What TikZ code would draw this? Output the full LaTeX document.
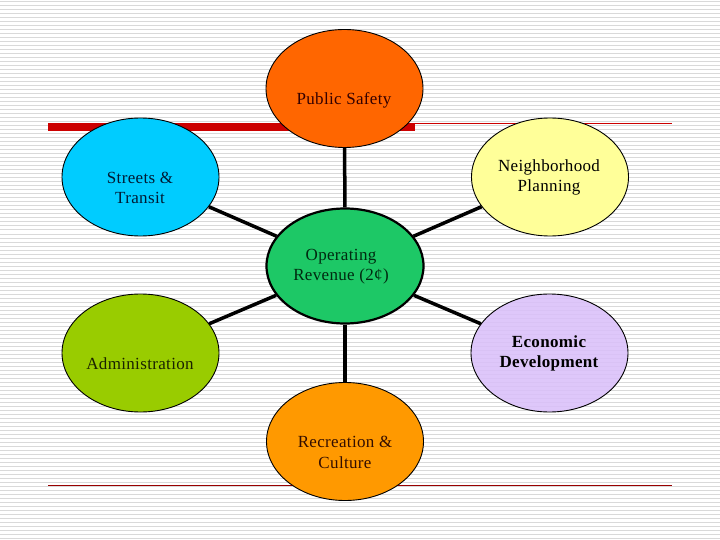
\documentclass[tikz,border=0pt]{standalone}
\usepackage{fontspec}
\setmainfont{Liberation Serif}[LetterSpace=2]
\usetikzlibrary{shapes.geometric}
\definecolor{stripegray}{HTML}{D9D9D9}
\definecolor{barred}{HTML}{CC0000}
\definecolor{darkred}{HTML}{990000}
\definecolor{cPS}{HTML}{FF6600}
\definecolor{cST}{HTML}{00CCFF}
\definecolor{cNP}{HTML}{FFFF99}
\definecolor{cOR}{HTML}{1DC866}
\definecolor{cAD}{HTML}{99CC00}
\definecolor{cED}{HTML}{D9BEFA}
\definecolor{cRC}{HTML}{FF9900}
\definecolor{tPS}{HTML}{330000}
\definecolor{tST}{HTML}{001A33}
\definecolor{tOR}{HTML}{002A10}
\definecolor{tAD}{HTML}{1A2200}
\definecolor{tRC}{HTML}{330E00}
\tikzset{
  bubble/.style={ellipse, draw=black, line width=0.9pt, minimum width=157pt, minimum height=118pt, inner sep=0pt},
  label text/.style={align=center, font=\fontsize{17}{20.5}\selectfont, text=black, inner sep=0pt},
  spoke/.style={line width=3.5pt, black},
  stripe/.style={stripegray, line width=1pt}
}
\begin{document}
\begin{tikzpicture}[x=1pt,y=-1pt]
\useasboundingbox (0,0) rectangle (720,540);
\fill[white] (0,0) rectangle (720,540);
\foreach \i in {0,...,134} \draw[stripe] (0,4*\i+2) -- (720,4*\i+2);
% red rules
\fill[barred] (48,123) rectangle (415,131.5);
\draw[barred, line width=1pt] (415,123.5) -- (672,123.5);
\draw[darkred, line width=1pt] (48,485.5) -- (672,485.5);
% bubbles
\node[bubble, fill=cPS] (ps) at (344.5,88.5) {};
\node[bubble, fill=cST] (st) at (140.5,177) {};
\node[bubble, fill=cNP] (np) at (550,177) {};
\node[bubble, fill=cAD] (ad) at (140.5,353) {};
\node[bubble, fill=cED, fill opacity=0.85] (ed) at (549.5,353) {};
\node[bubble, fill=cRC] (rc) at (345,441.5) {};
\node[bubble, fill=cOR, line width=2.2pt, minimum width=157pt, minimum height=115pt] (or) at (345,266) {};
% spokes
\draw[spoke] (or) -- (ps);
\draw[spoke] (or) -- (st);
\draw[spoke] (or) -- (np);
\draw[spoke] (or) -- (ad);
\draw[spoke] (or) -- (ed);
\draw[spoke] (or) -- (rc);
% texts
\node[label text, text=tPS] (pst) at (344,100) {Public Safety};
\node[label text, text=tST] (stt) at (140,188) {Streets \&\\Transit};
\node[label text] (npt) at (549,177.5) {Neighborhood\\Planning};
\node[label text, text=tOR] (ort) at (341,266.5) {Operating\\Revenue (2¢)};
\node[label text, text=tAD] (adt) at (140,364) {Administration};
\node[label text, font=\fontsize{17}{20.5}\selectfont\bfseries] (edt) at (549,353.5) {Economic\\Development};
\node[label text, text=tRC] (rct) at (345,452.5) {Recreation \&\\Culture};
\end{tikzpicture}
\end{document}
